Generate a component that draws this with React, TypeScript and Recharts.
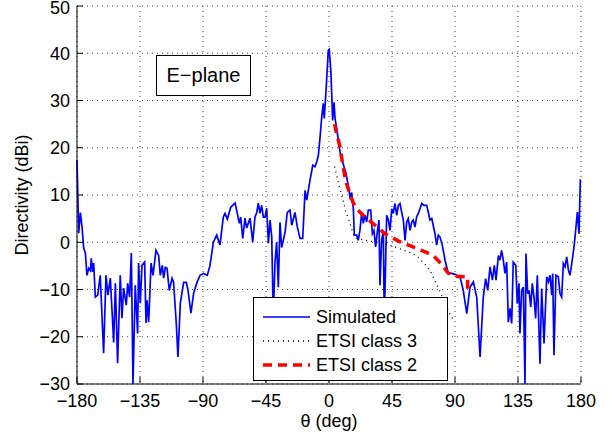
import { LineChart, Line, XAxis, YAxis, CartesianGrid } from "recharts"

const thetaSim = [
  -180, -178.8, -177.6, -176.4, -175.2, -174, -172.9, -171.6, -170.4, -169.8, -168.8, -168.1, -166.9, -165.2, -163.4, -161,
  -159.3, -157.9, -156.2, -153.8, -152.6, -151, -149.1, -147.9, -146.7, -144.8, -143.8, -142.4, -141.2, -140, -138.4, -136.7,
  -136, -134.8, -133.6, -131.7, -130.7, -130, -128.8, -127.1, -125.7, -123.6, -121.7, -120.5, -119.1, -118.1, -116.9, -115.7,
  -114.1, -112.1, -111, -109.1, -107.9, -106.2, -103.8, -101.9, -100.7, -98.6, -96.7, -94.3, -92.1, -89.8, -86.9, -85,
  -82.6, -80.2, -77.9, -75.5, -74.3, -72.6, -70.2, -68.8, -67.1, -65.5, -64.1, -63.1, -61.6, -60, -58.8, -56.4,
  -54.5, -52.9, -51.6, -50.5, -49.3, -48.1, -46.9, -45.7, -44.5, -43.3, -42.1, -40.9, -39.8, -38.6, -37.4, -36.2,
  -35, -33.8, -31.4, -29.8, -27.9, -26.6, -24.3, -22.6, -20.7, -18.8, -17.9, -17.1, -15.9, -13.6, -11.6, -10,
  -8.8, -7.6, -6.4, -5.2, -4.1, -3.4, -2.1, -0.5, 0.2, 1.4, 2.6, 3.6, 4.3, 5.5, 7.4, 8.3,
  10.2, 12.1, 13.8, 15, 16.2, 17.4, 18.1, 19.8, 20.9, 22.1, 23.4, 24.5, 25.7, 26.9, 28.1, 29.8,
  31, 32.1, 33.3, 34.5, 35.7, 36.4, 37.6, 38.8, 39.5, 41.2, 42.4, 43.6, 44.8, 45.9, 47.1, 48.4,
  49.5, 50.7, 51.9, 53.1, 54.3, 55.5, 56.6, 57.9, 59.1, 60.2, 61.4, 62.6, 63.8, 65, 66.2, 67.9,
  69.8, 70.9, 72.1, 73.4, 75.7, 76.9, 78.1, 79.3, 80.9, 82.9, 85.2, 87.6, 90, 91.2, 93.6, 95.9,
  98.4, 100.7, 103.1, 105.5, 107.9, 110.2, 111.9, 113.4, 115, 116.7, 118.1, 119.3, 121, 122.1, 123.3, 124.5,
  125.7, 126.9, 128.1, 129.3, 130.5, 131.6, 133.4, 134.5, 135.7, 136.4, 137.6, 138.8, 140, 140.7, 141.9, 142.9,
  144.1, 145.2, 146.4, 147.6, 148.8, 150.7, 151.9, 153.6, 155.5, 156.7, 157.9, 159.1, 159.8, 160.7, 162.1, 163.8,
  165, 166.2, 167.4, 168.6, 169.8, 171, 172.1, 173.4, 175, 176.2, 177.4, 178.6, 179.5, 180,
]
const dirSim = [
  17.4, 1.9, 6.3, 3.2, -1.3, -2.3, -7, -5.5, -6, -3.4, -6.3, -4.4, -11.6, -11.2, -7, -23.5,
  -7, -11.2, -7.6, -21.2, -8.7, -25.6, -7, -16.1, -9.7, -13.3, -8.7, -11.6, -2.3, -30, -9.1, -19.3,
  -4.4, -12.9, -4.9, -4.2, -17.1, -12.3, -16.9, -4.4, -7, -1.7, -2.8, -7, -4.9, -7.6, -5.3, -5.5,
  -10.2, -7.6, -8.5, -17.1, -24.3, -12.9, -8.5, -8.5, -10.2, -15, -10.8, -8.5, -7, -6.6, -7, -4.9,
  0, 1.5, -0.6, 5.3, 6.1, 4.9, 7.4, 7.8, 8.3, 6.1, 4, 5.3, 0.8, 5.1, 3, 5.1,
  0, 5.3, 6.3, 8.3, 6.1, 7.8, 5.3, 5.3, 7.2, -0.2, 4.7, 1.1, -16, -4.4, 0, -9.5,
  4.2, -1.1, 2.1, 6.3, 6.8, 3.6, 6.3, 3.2, 0.8, 0.8, 6.1, 11, 8.9, 13.1, 16.3, 16,
  17, 18.4, 22.2, 26.5, 29.4, 26.2, 32.2, 40.6, 40.8, 35.8, 25.8, 29.6, 26.2, 24.1, 20.1, 18.4,
  16.5, 14.6, 12, 9.6, 10.5, 7, 1.5, 1.5, 0.4, 2.5, 6.4, 4, 5.7, 4.3, 6.8, 6.8,
  1.8, 2.5, -1, 2.2, 4.7, -9.1, 0.4, 2.5, -17, 5.7, 4.7, 2.5, 7.1, 6.1, 8.2, 5.7,
  7.8, 8.2, 6.4, 4.7, 0.4, 4.3, 5, 2.5, 4.3, 4.7, 3.2, 5.4, 6.1, 7.1, 8.2, 7.8,
  7.8, 6.4, 4.7, 5, 1.8, -0.6, 1.5, 1.1, -0.6, -3.8, -6.6, -6.6, -6.8, -7, -7.3, -10.2,
  -15.1, -9.5, -8.4, -11.6, -24.3, -11.6, -7.7, -10.2, -5.2, -8, -4.9, -8, -2.8, -3.8, -1.7, -3.8,
  -6.6, -4.2, -16.9, -14, -17.2, -4.2, -4.9, -13, -8.7, -19.3, -10.2, -9.5, -30, -2.4, -10.9, -10.2,
  -13.7, -8.7, -11.6, -16.1, -7, -25.7, -9.8, -21.4, -7.3, -8.4, -7, -11.2, -6.6, -23.9, -7, -7.3,
  -10.9, -11.6, -4.5, -5.2, -3.1, -5.9, -7, -4.5, -1, 2.5, 6.4, 1.8, 13.1, 13,
]

const thetaClass3 = [4, 6, 8, 10, 12, 15, 17, 20, 30, 40, 50, 60, 65, 72, 79, 86, 89]
const dirClass3 = [16, 13.5, 11, 9, 6.5, 4, 2, 0.8, 0.2, -0.3, -1.3, -2.4, -3.5, -5.9, -10.2, -15, -16.5]

const thetaClass2 = [4, 5, 8, 10, 12.5, 15, 17.5, 20, 25, 30, 40, 50, 60, 70, 75, 80, 85, 90, 99, 99]
const dirClass2 = [25, 23.5, 20, 16, 12.4, 10.2, 8.2, 7, 5.5, 4.3, 1.8, 0.2, -1, -2.2, -3, -4.5, -6.5, -7.2, -7.3, -10]

const xTicks = [-180, -135, -90, -45, 0, 45, 90, 135, 180]
const yTicks = [-30, -20, -10, 0, 10, 20, 30, 40, 50]

const simData = thetaSim.map((t, i) => ({ theta: t, value: dirSim[i] }))
const class3Data = thetaClass3.map((t, i) => ({ theta: t, value: dirClass3[i] }))
const class2Data = thetaClass2.map((t, i) => ({ theta: t, value: dirClass2[i] }))

const FONT = '"Liberation Sans", Arial, Helvetica, sans-serif'
const fmt = (v: number) => (v < 0 ? "\u2212" + Math.abs(v) : String(v))

const LeftTick = (props: any) => {
  const { x, y, payload } = props
  // keep the top label inside the page
  const ty = y < 10 ? y + 1.5 : y
  return (
    <g>
      <text x={x} y={ty} dy="0.36em" textAnchor="end" fontSize={18} fontFamily={FONT} fill="#000">
        {fmt(payload.value)}
      </text>
      <line x1={x + 7} x2={x + 13} y1={y} y2={y} stroke="#000" />
    </g>
  )
}

const BottomTick = (props: any) => {
  const { x, y, payload } = props
  return (
    <g>
      <text x={x} y={y} dy="0.71em" textAnchor="middle" fontSize={18} fontFamily={FONT} fill="#000">
        {fmt(payload.value)}
      </text>
      <line x1={x} x2={x} y1={y - 11} y2={y - 17} stroke="#000" />
    </g>
  )
}

const TopTick = (props: any) => {
  const { x, y } = props
  return <line x1={x} x2={x} y1={y} y2={y + 6} stroke="#000" />
}

const RightTick = (props: any) => {
  const { x, y } = props
  return <line x1={x} x2={x - 6} y1={y} y2={y} stroke="#000" />
}

const legendRows = [
  { label: "Simulated", color: "#0000ff", width: 1.5, dash: "" },
  { label: "ETSI class 3", color: "#000", width: 1.5, dash: "1 4" },
  { label: "ETSI class 2", color: "#ff0000", width: 3.5, dash: "9 6" },
]

export default function App() {
  return (
    <div style={{ position: "absolute", left: 0, top: 0, width: 614, height: 439, background: "#fff", fontFamily: FONT }}>
      <LineChart width={614} height={439} data={simData} margin={{ top: 6, right: 33, bottom: 0, left: 0 }}>
        <CartesianGrid stroke="#444" strokeDasharray="1 4" />
        <XAxis
          dataKey="theta"
          type="number"
          domain={[-180, 180]}
          ticks={xTicks}
          height={55}
          tickSize={0}
          tickMargin={10}
          tick={<BottomTick />}
          stroke="#000"
          interval={0}
        />
        <XAxis
          xAxisId="top"
          orientation="top"
          dataKey="theta"
          type="number"
          domain={[-180, 180]}
          ticks={xTicks}
          height={0}
          tickSize={0}
          tickMargin={0}
          tick={<TopTick />}
          stroke="#000"
          interval={0}
        />
        <YAxis
          type="number"
          domain={[-30, 50]}
          ticks={yTicks}
          width={77}
          tickSize={0}
          tickMargin={7}
          tick={<LeftTick />}
          stroke="#000"
          interval={0}
        />
        <YAxis
          yAxisId="right"
          orientation="right"
          type="number"
          domain={[-30, 50]}
          ticks={yTicks}
          width={0}
          tickSize={0}
          tickMargin={0}
          tick={<RightTick />}
          stroke="#000"
          interval={0}
        />
        <Line data={simData} dataKey="value" type="linear" stroke="#0000ff" strokeWidth={1.7} dot={false} isAnimationActive={false} />
        <Line data={class3Data} dataKey="value" type="linear" stroke="#000" strokeWidth={1.3} strokeDasharray="1 4" dot={false} isAnimationActive={false} />
        <Line data={class2Data} dataKey="value" type="linear" stroke="#ff0000" strokeWidth={3.5} strokeDasharray="9 6" dot={false} isAnimationActive={false} />
      </LineChart>

      <div
        style={{
          position: "absolute", left: 156, top: 55, width: 95, height: 41, boxSizing: "border-box",
          border: "1px solid #000", background: "#fff", fontSize: 20, display: "flex",
          alignItems: "center", justifyContent: "center",
        }}
      >
        E{"\u2212"}plane
      </div>

      <div
        style={{
          position: "absolute", left: 253, top: 297, width: 195, height: 84, boxSizing: "border-box",
          border: "1px solid #000", background: "#fff", paddingTop: 7,
        }}
      >
        {legendRows.map((r) => (
          <div key={r.label} style={{ display: "flex", alignItems: "center", height: 24, fontSize: 18 }}>
            <svg width={62} height={24} style={{ flex: "none" }}>
              <line x1={9} x2={56} y1={12} y2={12} stroke={r.color} strokeWidth={r.width} strokeDasharray={r.dash || undefined} />
            </svg>
            <span style={{ whiteSpace: "nowrap" }}>{r.label}</span>
          </div>
        ))}
      </div>

      <div
        style={{
          position: "absolute", left: 22, top: 195, transform: "translate(-50%, -50%) rotate(-90deg)",
          whiteSpace: "nowrap", fontSize: 18,
        }}
      >
        Directivity (dBi)
      </div>
      <div
        style={{
          position: "absolute", left: 329, top: 421, transform: "translate(-50%, -50%)",
          whiteSpace: "nowrap", fontSize: 18,
        }}
      >
        {"\u03b8"} (deg)
      </div>
    </div>
  )
}
